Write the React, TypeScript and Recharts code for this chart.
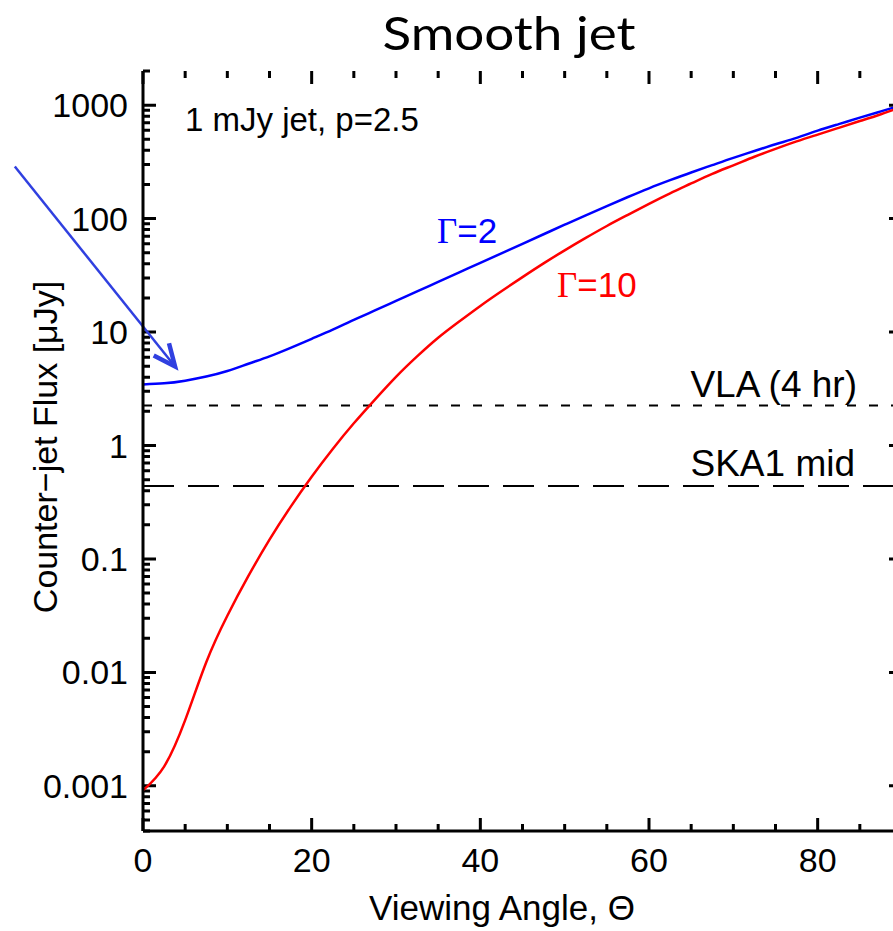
import { LineChart, Line, XAxis, YAxis, ReferenceLine } from "recharts";

// viewing angle (deg)
const THETA = [
  0, 2.5, 5, 7.5, 10, 12.5, 15, 17.5, 20, 22.5, 25, 27.5, 30, 32.5, 35, 37.5, 40, 42.5, 45,
  47.5, 50, 52.5, 55, 57.5, 60, 62.5, 65, 67.5, 70, 72.5, 75, 77.5, 80, 82.5, 85, 87.5, 90,
];

// counter-jet flux [uJy], Gamma = 2
const GAMMA2 = [
  3.45, 3.53, 3.73, 4.05, 4.53, 5.25, 6.1, 7.24, 8.71, 10.5, 12.8, 15.5, 18.8, 22.8, 27.7, 33.6,
  40.7, 49.4, 60.0, 72.8, 88.3, 107, 129, 155, 185, 218, 255, 296, 343, 394, 452, 515, 596, 681,
  776, 881, 1000,
];

// counter-jet flux [uJy], Gamma = 10
const GAMMA10 = [
  0.000912, 0.00148, 0.0038, 0.0123, 0.0316, 0.0708, 0.148, 0.288, 0.531, 0.933, 1.57, 2.54,
  4.03, 6.1, 8.91, 12.4, 17.0, 22.9, 30.5, 40.3, 52.5, 67.6, 86.1, 108, 135, 167, 204, 248, 295,
  351, 412, 479, 550, 631, 724, 832, 966,
];

const VLA_LIMIT = 2.25; // VLA (4 hr)
const SKA_LIMIT = 0.44; // SKA1 mid

const X_TICKS = [0, 5, 10, 15, 20, 25, 30, 35, 40, 45, 50, 55, 60, 65, 70, 75, 80, 85, 90];
const X_LABELS = [0, 20, 40, 60, 80];
const Y_DECADES = [0.0001, 0.001, 0.01, 0.1, 1, 10, 100, 1000];
const Y_MINOR = [2, 3, 4, 5, 6, 7, 8, 9];
const Y_LABELS = [0.001, 0.01, 0.1, 1, 10, 100, 1000];

// arrow pointing at the Gamma=2 curve near theta = 0
const ARROW = [
  { x: -15.2, y: 288 },
  { x: 3.8, y: 4.97 },
];

const X_DOMAIN = [0, 90];
const Y_DOMAIN = [0.0004, 2000];

const yTicks = Y_DECADES.flatMap((d) => [d, ...Y_MINOR.map((m) => d * m)]).filter(
  (v) => v >= Y_DOMAIN[0] * 0.999 && v <= Y_DOMAIN[1] * 1.001
);

const data = THETA.map((t, i) => ({ theta: t, g2: GAMMA2[i], g10: GAMMA10[i] }));

const FONT = "'Liberation Sans', Arial, Helvetica, sans-serif";
const SERIF = "'Liberation Serif', 'Times New Roman', serif";
const LABEL_STYLE = { fontSize: 34, fontFamily: FONT, fill: "#000" };
const AXIS_LINE = { stroke: "#000", strokeWidth: 3 };
const isYMajor = (v: number) => Y_DECADES.some((d) => Math.abs(v / d - 1) < 1e-6);

// inward tick marks on the bottom and top frame edges
const XTickMark = (props: any) => {
  const { x1, y1, y2, major } = props;
  const top = Math.min(y1, y2);
  const bottom = Math.max(y1, y2);
  const len = major ? 13 : 7;
  return (
    <path
      d={`M${x1},${bottom}v${-len}M${x1},${top}v${len}`}
      stroke="#000"
      strokeWidth={3}
      fill="none"
    />
  );
};

// inward tick marks on the left and right frame edges
const YTickMark = (props: any) => {
  const { x1, x2, y1, major } = props;
  const left = Math.min(x1, x2);
  const right = Math.max(x1, x2);
  const len = major ? 13 : 7;
  return (
    <path
      d={`M${left},${y1}h${len}M${right},${y1}h${-len}`}
      stroke="#000"
      strokeWidth={3}
      fill="none"
    />
  );
};

const ArrowShape = (props: any) => {
  const { x1, y1, x2, y2 } = props;
  const ang = Math.atan2(y2 - y1, x2 - x1);
  const len = 24;
  const spread = 0.42;
  const a1 = ang + Math.PI - spread;
  const a2 = ang + Math.PI + spread;
  const color = "#3040e0";
  return (
    <g>
      <line x1={x1} y1={y1} x2={x2} y2={y2} stroke={color} strokeWidth={2.5} />
      <polyline
        points={`${x2 + len * Math.cos(a1)},${y2 + len * Math.sin(a1)} ${x2},${y2} ${
          x2 + len * Math.cos(a2)
        },${y2 + len * Math.sin(a2)}`}
        fill="none"
        stroke={color}
        strokeWidth={4.5}
        strokeLinejoin="miter"
      />
    </g>
  );
};

export default function App() {
  return (
    <div
      style={{
        position: "absolute",
        left: 0,
        top: 0,
        width: 893,
        height: 931,
        overflow: "hidden",
        background: "#fff",
      }}
    >
      <LineChart
        width={920}
        height={931}
        data={data}
        margin={{ top: 71, right: 18, bottom: 0, left: 0 }}
      >
        <XAxis
          dataKey="theta"
          type="number"
          domain={X_DOMAIN}
          ticks={X_LABELS}
          interval={0}
          allowDataOverflow
          height={100}
          tickSize={0}
          tickMargin={17}
          tick={LABEL_STYLE}
          tickLine={false}
          axisLine={AXIS_LINE}
        />
        <XAxis
          xAxisId="top"
          orientation="top"
          type="number"
          domain={X_DOMAIN}
          allowDataOverflow
          height={0}
          tick={false}
          tickLine={false}
          axisLine={AXIS_LINE}
        />
        <YAxis
          scale="log"
          type="number"
          domain={Y_DOMAIN}
          ticks={Y_LABELS}
          interval={0}
          allowDataOverflow
          width={143}
          tickSize={0}
          tickMargin={15}
          tick={LABEL_STYLE}
          tickFormatter={(v: number) => String(v)}
          tickLine={false}
          axisLine={AXIS_LINE}
        />
        <YAxis
          yAxisId="right"
          orientation="right"
          scale="log"
          type="number"
          domain={Y_DOMAIN}
          allowDataOverflow
          width={0}
          tick={false}
          tickLine={false}
          axisLine={AXIS_LINE}
        />
        {X_TICKS.map((v) => (
          <ReferenceLine key={`xt${v}`} x={v} shape={<XTickMark major={v % 20 === 0} />} />
        ))}
        {yTicks.map((v) => (
          <ReferenceLine key={`yt${v}`} y={v} shape={<YTickMark major={isYMajor(v)} />} />
        ))}
        <ReferenceLine y={VLA_LIMIT} stroke="#000" strokeWidth={2} strokeDasharray="9 13" />
        <ReferenceLine y={SKA_LIMIT} stroke="#000" strokeWidth={2} strokeDasharray="31 14" />
        <Line
          type="natural"
          dataKey="g2"
          stroke="#0000ff"
          strokeWidth={2.5}
          dot={false}
          isAnimationActive={false}
        />
        <Line
          type="natural"
          dataKey="g10"
          stroke="#ff0000"
          strokeWidth={2.5}
          dot={false}
          isAnimationActive={false}
        />
        <ReferenceLine segment={ARROW} ifOverflow="visible" shape={<ArrowShape />} />
      </LineChart>
      <svg
        width={893}
        height={931}
        style={{ position: "absolute", left: 0, top: 0, pointerEvents: "none" }}
      >
        <text
          x={509}
          y={50}
          textAnchor="middle"
          fontSize={46}
          fontFamily="Lato, 'Open Sans', sans-serif"
          fill="#000"
          textLength={253}
          lengthAdjust="spacingAndGlyphs"
        >
          Smooth jet
        </text>
        <text x={185} y={131} fontSize={33} fontFamily={FONT} fill="#000">
          1 mJy jet, p=2.5
        </text>
        <text x={437} y={243} fontSize={35} fontFamily={FONT} fill="#0000ff">
          <tspan fontFamily={SERIF}>Γ</tspan>=2
        </text>
        <text x={557} y={297} fontSize={35} fontFamily={FONT} fill="#ff0000">
          <tspan fontFamily={SERIF}>Γ</tspan>=10
        </text>
        <text x={857} y={397} textAnchor="end" fontSize={37} fontFamily={FONT} fill="#000">
          VLA (4 hr)
        </text>
        <text x={855} y={476} textAnchor="end" fontSize={37} fontFamily={FONT} fill="#000">
          SKA1 mid
        </text>
        <text x={502} y={920} textAnchor="middle" fontSize={35} fontFamily={FONT} fill="#000">
          Viewing Angle, Θ
        </text>
        <text
          transform="translate(57, 447) rotate(-90)"
          textAnchor="middle"
          fontSize={34}
          fontFamily={FONT}
          fill="#000"
        >
          Counter−jet Flux [μJy]
        </text>
      </svg>
    </div>
  );
}
